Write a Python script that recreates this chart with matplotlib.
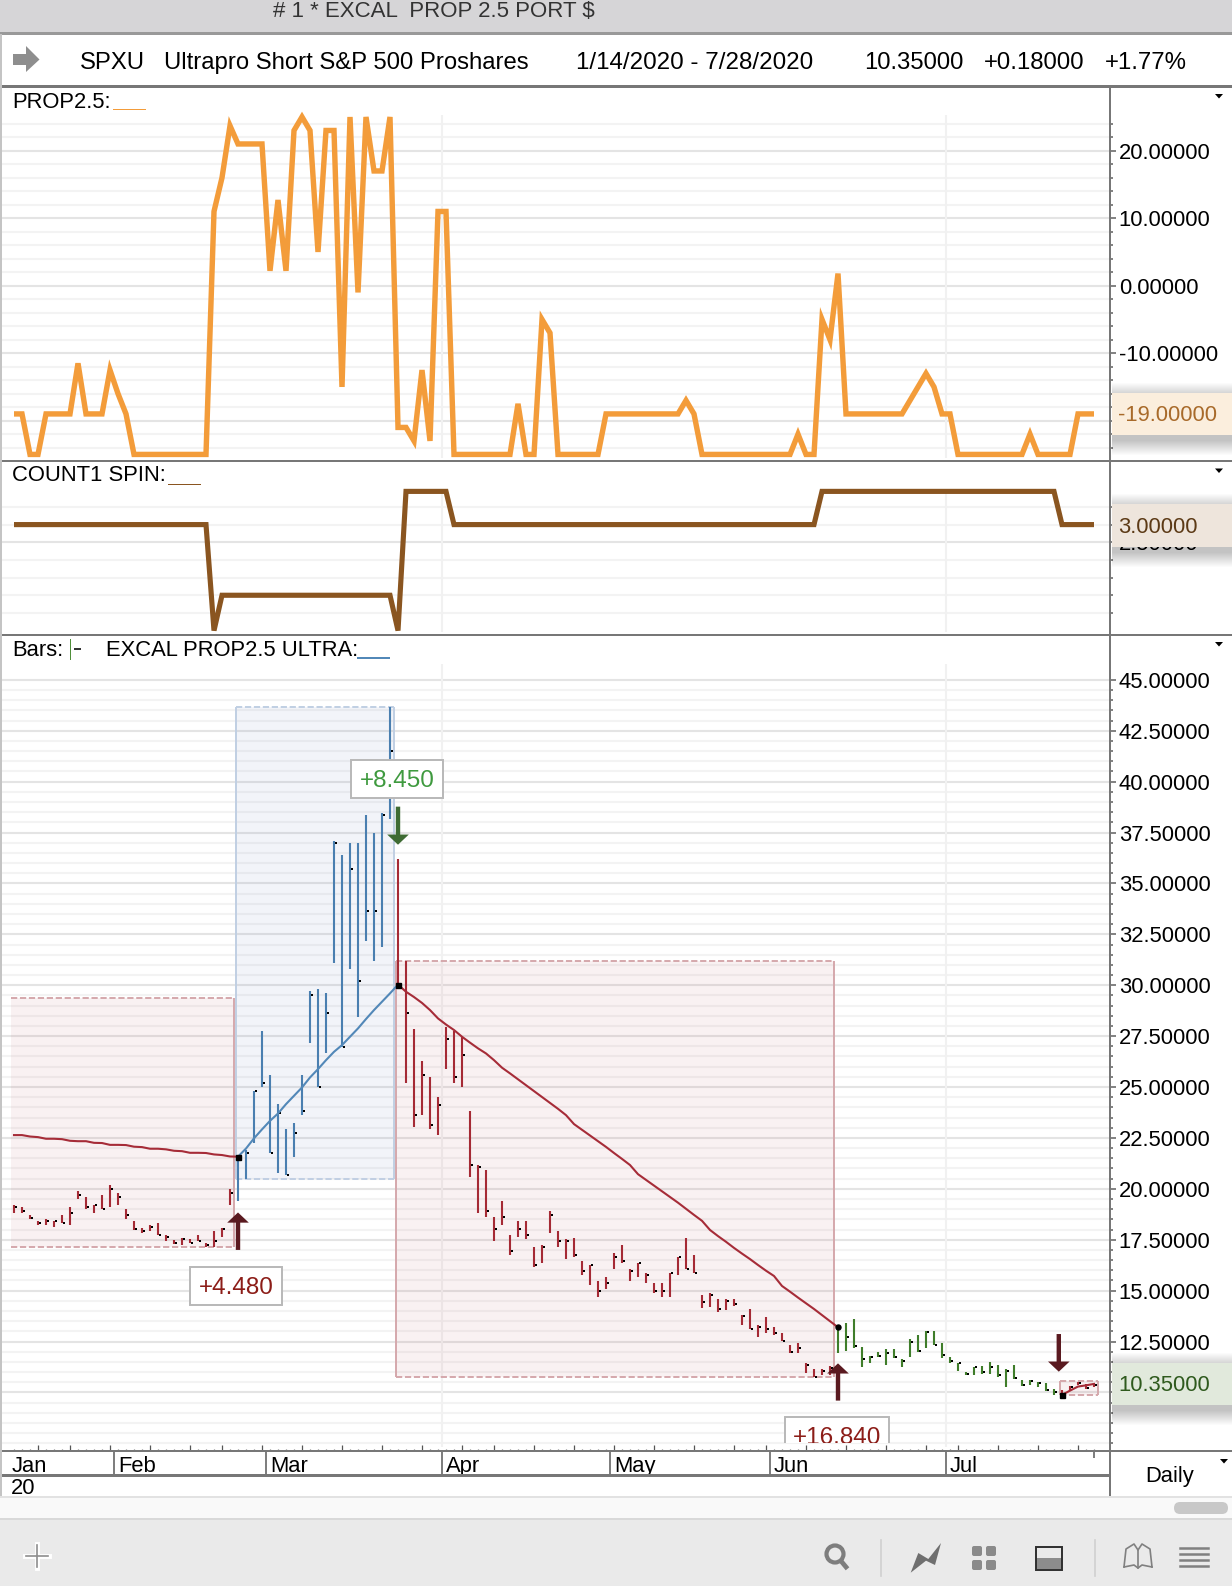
import matplotlib
matplotlib.use("Agg")
import matplotlib.pyplot as plt
from matplotlib.patches import Rectangle, Polygon, Circle, FancyBboxPatch
from matplotlib.transforms import Bbox

plt.rcParams["font.family"] = ["Liberation Sans", "DejaVu Sans"]
plt.rcParams["axes.unicode_minus"] = False

W, H = 1232, 1586

# -------------------------------
# Data
# -------------------------------
prop_values = [
    -19, -19, -25, -25, -19, -19, -19, -19, -11.5, -19, -19, -19, -12.5, -16, -19, -25,
    -25, -25, -25, -25, -25, -25, -25, -25, -25,
    11, 16, 23.7, 21, 21, 21, 21, 2.2, 12.7, 2.2, 23, 25, 23, 5, 23, 23, -15, 25, -1, 25, 17, 17, 25,
    -21, -21, -23, -12.5, -23, 11, 11, -25,
    -25, -25, -25, -25, -25, -25, -25,
    -17.5, -25, -25, -5, -7, -25, -25, -25, -25, -25, -25,
    -19, -19, -19, -19, -19, -19, -19, -19, -19, -19,
    -17, -19, -25, -25, -25, -25, -25, -25, -25, -25, -25, -25, -25, -25,
    -22, -25, -25, -5, -8, 1.8,
    -19, -19, -19, -19, -19, -19, -19, -19,
    -17, -15, -13, -15, -19, -19,
    -25, -25, -25, -25, -25, -25, -25, -25, -25,
    -22, -25, -25, -25, -25, -25, -19, -19, -19,
]

count_values = [
    3, 3, 3, 3, 3, 3, 3, 3, 3, 3, 3, 3, 3, 3, 3, 3, 3, 3, 3, 3, 3, 3, 3, 3, 3,
    0, 1, 1, 1, 1, 1, 1, 1, 1, 1, 1, 1, 1, 1, 1, 1, 1, 1, 1, 1, 1, 1, 1,
    0, 3.94, 3.94, 3.94, 3.94, 3.94, 3.94,
    3, 3, 3, 3, 3, 3, 3, 3, 3, 3, 3, 3, 3, 3, 3, 3, 3, 3, 3, 3, 3, 3, 3,
    3, 3, 3, 3, 3, 3, 3, 3, 3, 3, 3, 3, 3, 3, 3, 3, 3, 3, 3, 3, 3, 3, 3,
    3.94, 3.94, 3.94, 3.94, 3.94, 3.94, 3.94, 3.94, 3.94, 3.94, 3.94, 3.94, 3.94, 3.94, 3.94,
    3.94, 3.94, 3.94, 3.94, 3.94, 3.94, 3.94, 3.94, 3.94, 3.94, 3.94, 3.94, 3.94, 3.94, 3.94,
    3, 3, 3, 3, 3,
]

bar_high = [
    19.20, 19.09, 18.71, 18.43, 18.50, 18.43, 18.71, 19.09, 19.89, 19.61, 19.20, 19.69, 20.18, 19.81,
    19.00, 18.43, 18.10, 18.22, 18.33, 17.71, 17.51, 17.61, 17.55, 17.73, 17.32, 17.91, 18.10, 19.99,
    21.57, 21.90, 24.82, 27.75, 25.59, 24.19, 22.92, 23.21, 25.59, 29.70, 29.80, 29.60, 37.07, 36.38,
    36.97, 36.97, 38.34, 37.46, 38.44, 43.65, 36.18, 31.17, 27.83, 26.26, 25.47, 24.49, 27.93, 27.77,
    27.47, 23.80, 21.15, 20.95, 18.60, 19.38, 17.71, 18.40, 18.40, 17.12, 17.22, 18.89, 17.91, 17.52,
    17.61, 16.44, 16.27, 15.45, 15.65, 16.83, 17.22, 16.04, 16.37, 15.85, 15.36, 15.36, 15.88, 16.66,
    17.61, 16.73, 14.77, 14.87, 14.58, 14.58, 14.58, 13.79, 14.08, 13.30, 13.69, 13.20, 12.91, 12.33,
    12.41, 11.43, 11.14, 11.14, 11.30, 13.20, 13.40, 13.59, 12.22, 11.79, 12.00, 12.12, 12.12, 11.63,
    12.61, 12.82, 13.02, 13.02, 12.41, 11.73, 11.47, 11.02, 11.27, 11.30, 11.51, 11.35, 11.14, 11.33,
    10.61, 10.61, 10.53, 10.45, 10.16, 10.12, 10.32, 10.53, 10.42, 10.48,
]
bar_low = [
    18.79, 18.79, 18.51, 18.22, 18.22, 18.14, 18.30, 18.22, 19.50, 19.00, 18.83, 19.00, 19.12, 19.20,
    18.51, 18.00, 17.84, 17.94, 17.71, 17.45, 17.29, 17.25, 17.32, 17.42, 17.15, 17.15, 17.65, 19.20,
    19.41, 20.49, 22.26, 25.01, 21.77, 20.79, 20.67, 21.58, 23.64, 27.17, 25.01, 26.68, 31.11, 26.95,
    30.81, 28.45, 32.19, 31.20, 31.89, 38.18, 30.00, 25.21, 23.05, 23.64, 22.95, 22.66, 25.90, 25.21,
    25.01, 20.59, 18.83, 18.63, 17.45, 18.24, 16.76, 17.65, 17.55, 16.17, 16.37, 17.84, 17.16, 16.57,
    16.66, 15.78, 15.29, 14.70, 15.09, 16.08, 16.37, 15.49, 15.68, 15.39, 14.90, 14.70, 14.70, 15.78,
    16.08, 15.88, 14.13, 14.22, 13.97, 14.05, 14.27, 13.32, 13.12, 12.74, 12.94, 12.84, 12.51, 11.96,
    11.96, 10.97, 10.74, 10.86, 10.86, 11.92, 12.05, 12.17, 11.27, 11.47, 11.73, 11.37, 11.68, 11.27,
    11.76, 12.00, 12.17, 12.33, 11.68, 11.47, 11.07, 10.86, 10.86, 10.91, 10.89, 10.74, 10.29, 10.65,
    10.32, 10.37, 10.29, 10.09, 9.88, 9.76, 10.09, 10.37, 10.16, 10.25,
]
bar_close = [
    19.12, 18.92, 18.55, 18.33, 18.43, 18.40, 18.33, 18.83, 19.71, 19.09, 19.20, 19.00, 19.99, 19.61,
    18.71, 18.04, 17.94, 18.14, 17.74, 17.65, 17.35, 17.55, 17.35, 17.45, 17.25, 17.45, 18.04, 19.81,
    21.50, 21.77, 24.82, 25.21, 21.77, 23.74, 20.69, 22.75, 23.83, 29.53, 25.01, 28.65, 37.00, 26.95,
    35.72, 30.22, 33.66, 33.66, 38.36, 41.52, 30.00, 28.65, 23.64, 25.60, 23.13, 24.13, 27.37, 25.51,
    26.59, 21.18, 21.09, 18.92, 18.04, 18.63, 16.96, 18.04, 17.75, 16.27, 17.16, 18.73, 17.45, 17.45,
    16.76, 15.98, 16.27, 15.00, 15.39, 16.66, 16.47, 15.98, 16.37, 15.78, 15.00, 15.00, 15.88, 16.66,
    16.08, 15.88, 14.44, 14.79, 14.08, 14.51, 14.35, 13.76, 13.12, 13.23, 13.14, 12.91, 12.55, 12.00,
    12.17, 11.33, 10.78, 11.07, 11.19, 13.20, 12.71, 12.28, 11.65, 11.76, 11.81, 11.96, 11.76, 11.56,
    12.50, 12.05, 12.97, 12.33, 11.84, 11.56, 11.43, 10.91, 11.24, 11.02, 11.24, 10.86, 11.07, 10.71,
    10.37, 10.56, 10.45, 10.12, 10.04, 9.88, 10.29, 10.48, 10.20, 10.35,
]

# bar colour runs: first bar index, last bar index, colour
bar_runs = [(0, 27, "#a52a35"), (28, 47, "#4a7fb0"), (48, 102, "#a52a35"), (103, 130, "#3f7d2a"), (131, 135, "#a52a35")]

# EXCAL PROP2.5 ULTRA line, one piece per trade
ultra_a = [22.64, 22.64, 22.57, 22.54, 22.46, 22.46, 22.44, 22.36, 22.34, 22.34, 22.26, 22.25, 22.16, 22.16, 22.15,
           22.07, 22.05, 21.97, 21.97, 21.94, 21.87, 21.85, 21.77, 21.77, 21.76, 21.69, 21.66, 21.59, 21.58]
ultra_b = [21.58, 21.98, 22.48, 22.92, 23.34, 23.70, 24.16, 24.57, 24.98, 25.47, 25.88, 26.32, 26.73, 27.06, 27.47,
           27.88, 28.34, 28.78, 29.19, 29.60, 30.03]
ultra_c = [30.03, 29.68, 29.42, 29.13, 28.78, 28.37, 28.07, 27.80, 27.47, 27.18, 26.90, 26.65, 26.32, 25.95, 25.67,
           25.38, 25.09, 24.80, 24.51, 24.22, 23.93, 23.62, 23.18, 22.90, 22.62, 22.34, 22.06, 21.76, 21.47, 21.17,
           20.72, 20.44, 20.16, 19.88, 19.60, 19.32, 19.02, 18.72, 18.43, 17.98, 17.68, 17.40, 17.10, 16.82, 16.55,
           16.26, 15.98, 15.72, 15.23, 14.95, 14.66, 14.38, 14.10, 13.80, 13.50, 13.20]
ultra_d = [9.88, 10.09, 10.29, 10.35, 10.42]
ultra_starts = [0, 28, 48, 131]
ultra_colors = ["#a62c38", "#5288b8", "#a62c38", "#a62c38"]

# black entry and exit points
dot_bar = [28, 48, 131]
dot_value = [21.58, 30.03, 9.88]
round_dot_bar = [103]
round_dot_value = [13.20]

# trade boxes: first x, last x, top, bottom
box_x0 = [-0.4, 27.7, 47.75, 130.7]
box_x1 = [27.5, 47.5, 102.55, 135.5]
box_top = [29.37, 43.68, 31.2, 10.58]
box_bottom = [17.15, 20.5, 10.77, 9.88]
box_fill = ["#b03040", "#3f66a8", "#b03040", "#b03040"]
box_edge = ["#d5a8ac", "#c0cfe3", "#d5a8ac", "#d5a8ac"]

# signal arrows: bar, tail, tip
arrow_bar = [28, 48, 103, 130.6]
arrow_tail = [17.0, 38.77, 9.60, 12.87]
arrow_tip = [18.84, 36.9, 11.43, 11.02]
arrow_color = ["#5a1a20", "#3e6b33", "#5a1a20", "#5a1a20"]

# trade result labels
label_text = ["+4.480", "+8.450", "+16.840"]
label_bar = [27.8, 47.9, 102.9]
label_value = [15.24, 40.13, 7.87]
label_width = [11.5, 11.5, 13.0]
label_height = [1.87, 1.87, 1.87]
label_color = ["#8c1d18", "#3f9a3f", "#8c1d18"]

month_names = ["Jan", "Feb", "Mar", "Apr", "May", "Jun", "Jul"]
month_pos = [-0.3, 12.5, 31.5, 53.5, 74.5, 94.5, 116.5]
week_ticks = [3, 7, 12, 17, 22, 26, 31, 36, 41, 46, 51, 56, 60, 65, 70, 75, 80, 85, 90, 94, 99, 104, 109, 114, 118, 123, 128, 133]
grid_months = [53.5, 116.5]

prop_ticks = [20, 10, 0, -10, -20]
prop_tick_text = ["20.00000", "10.00000", "0.00000", "-10.00000", ""]
count_ticks = [2.5]
count_tick_text = ["2.50000"]
price_ticks = [45, 42.5, 40, 37.5, 35, 32.5, 30, 27.5, 25, 22.5, 20, 17.5, 15, 12.5, 10]
price_tick_text = ["45.00000", "42.50000", "40.00000", "37.50000", "35.00000", "32.50000", "30.00000", "27.50000",
                   "25.00000", "22.50000", "20.00000", "17.50000", "15.00000", "12.50000", ""]


def px_axes(fig, x0, y0, x1, y1, **kw):
    return fig.add_axes([x0 / W, 1 - y1 / H, (x1 - x0) / W, (y1 - y0) / H], **kw)


def style_panel(ax, major, major_text, minor, lims):
    ax.set_xlim(-1.5, 137)
    ax.set_ylim(*lims)
    ax.yaxis.tick_right()
    ax.set_yticks(major)
    ax.set_yticklabels(major_text, fontsize=15.8)
    ax.set_yticks(minor, minor=True)
    ax.tick_params(axis="y", which="major", length=4, width=1.3, color="#777777", pad=2.3)
    ax.tick_params(axis="y", which="minor", length=1.8, width=1.3, color="#777777")
    ax.grid(True, which="major", axis="y", color="#e4e4e4", lw=1.5)
    ax.grid(True, which="minor", axis="y", color="#f3f3f3", lw=1.5)
    ax.set_axisbelow(True)
    ax.set_xticks([])
    for side in ax.spines:
        ax.spines[side].set_visible(False)


fig = plt.figure(figsize=(W / 100, H / 100), dpi=100, facecolor="white")
xs = list(range(len(bar_close)))

# -------------------------------
# PROP2.5 panel
# -------------------------------
ax_prop = px_axes(fig, 2, 87, 1110, 460.7)
style_panel(ax_prop, prop_ticks, prop_tick_text, list(range(-24, 26, 2)), (-25.93, 29.44))
ax_prop.vlines(grid_months, -25.6, 25.3, color="#f1f1f1", lw=1.5, zorder=1)
ax_prop.plot(xs, prop_values, color="#f39c3a", lw=3.9, solid_joinstyle="miter", solid_capstyle="butt", zorder=3)

# -------------------------------
# COUNT1 SPIN panel
# -------------------------------
ax_count = px_axes(fig, 2, 461, 1110, 635)
style_panel(ax_count, count_ticks, count_tick_text, [0.5, 1, 1.5, 2, 3, 3.5], (-0.125, 4.8))
ax_count.vlines(grid_months, -0.05, 4, color="#f1f1f1", lw=1.5, zorder=1)
ax_count.plot(xs, count_values, color="#8a5520", lw=3.7, solid_joinstyle="miter", solid_capstyle="butt", zorder=3)

# -------------------------------
# Price panel
# -------------------------------
ax_price = px_axes(fig, 2, 635, 1110, 1450.7)
price_minor = [7.5 + 0.5 * k for k in range(76)]
style_panel(ax_price, price_ticks, price_tick_text, price_minor, (7.14, 47.2))
ax_price.vlines(grid_months, 7.3, 45.8, color="#f1f1f1", lw=1.5, zorder=1)

for x0, x1, top, bottom, fill, edge in zip(box_x0, box_x1, box_top, box_bottom, box_fill, box_edge):
    ax_price.add_patch(Rectangle((x0, bottom), x1 - x0, top - bottom, facecolor=fill, alpha=0.065, lw=0, zorder=2))
    ax_price.hlines([top, bottom], x0, x1, color=edge, lw=1.4, linestyles=(0, (3.2, 1.4)), zorder=2.5)
    ax_price.vlines(x1, bottom, top, color=edge, lw=1.4, zorder=2.5)
    if x0 > 0:
        ax_price.vlines(x0, bottom, top, color=edge, lw=1.4, zorder=2.5)

for first, last, color in bar_runs:
    rng = xs[first:last + 1]
    ax_price.vlines(rng, bar_low[first:last + 1], bar_high[first:last + 1], color=color, lw=1.5, zorder=4)
ax_price.plot([x + 0.28 for x in xs], bar_close, ls="", marker="s", ms=1.5, mfc="black", mec="black", mew=0, zorder=5)

for start, vals, color in zip(ultra_starts, [ultra_a, ultra_b, ultra_c, ultra_d], ultra_colors):
    ax_price.plot(range(start, start + len(vals)), vals, color=color, lw=1.5, zorder=6)
ax_price.plot(dot_bar, dot_value, ls="", marker="s", ms=3.6, color="black", zorder=7)
ax_price.plot(round_dot_bar, round_dot_value, ls="", marker="o", ms=3.6, color="black", zorder=7)

for bar, tail, tip, color in zip(arrow_bar, arrow_tail, arrow_tip, arrow_color):
    ax_price.arrow(bar, tail, 0, tip - tail, width=0.55, head_width=2.7, head_length=0.5,
                   length_includes_head=True, color=color, lw=0, zorder=8)

# result labels are clipped by the scale strip at the bottom
clip = Bbox([[0, H - 1443], [W, H - 640]])
for text, bar, value, bw, bh, color in zip(label_text, label_bar, label_value, label_width, label_height, label_color):
    box = Rectangle((bar - bw / 2, value - bh / 2), bw, bh, fc="white", ec="#b8b8b8", lw=1.4, zorder=9)
    ax_price.add_patch(box)
    box.set_clip_box(clip)
    t = ax_price.text(bar, value, text, color=color, fontsize=17.5, ha="center", va="center_baseline", zorder=10)
    t.set_clip_on(True)
    t.set_clip_box(clip)

ax_price.set_xticks(week_ticks)
ax_price.set_xticks(xs, minor=True)
ax_price.xaxis.tick_bottom()
ax_price.tick_params(axis="x", which="major", direction="in", length=4.2, width=0.9, color="#555555", labelbottom=False)
ax_price.tick_params(axis="x", which="minor", direction="in", length=1.6, width=0.9, color="#777777")

# -------------------------------
# Month strip
# -------------------------------
ax_date = px_axes(fig, 2, 1451, 1110, 1475)
ax_date.set_xlim(-1.5, 137)
ax_date.set_ylim(0, 1)
ax_date.set_xticks([])
ax_date.set_yticks([])
for side in ax_date.spines:
    ax_date.spines[side].set_visible(False)
ax_date.vlines(month_pos[1:], 0, 1, color="#666666", lw=1.2)
ax_date.vlines(135, 0.72, 1, color="#666666", lw=1.2)
for pos, name in zip(month_pos, month_names):
    ax_date.text(pos + 0.5 if pos > 0 else pos, 0.44, name, fontsize=15.8, va="center_baseline", ha="left", color="black")

# -------------------------------
# Window chrome
# -------------------------------
ui = fig.add_axes([0, 0, 1, 1], zorder=10)
ui.set_xlim(0, W)
ui.set_ylim(H, 0)
ui.axis("off")
ui.patch.set_alpha(0)


def rect(x0, y0, x1, y1, color, **kw):
    ui.add_patch(Rectangle((x0, y0), x1 - x0, y1 - y0, facecolor=color, lw=0, **kw))


rect(0, 0, W, 33, "#d6d5d7")
rect(0, 32, W, 34.5, "#999999")
rect(0, 85, W, 87.5, "#777777")
rect(0, 460, W, 462, "#777777")
rect(0, 634, W, 636, "#777777")
rect(0, 1450, W, 1452, "#777777")
rect(2, 1474, 1110, 1476.5, "#777777")
rect(1109.2, 87, 1111, 1496, "#777777")
rect(0, 34, 1.5, 1497, "#c4c4c4")
rect(0, 1496, W, 1519, "#f9f9f9")
rect(0, 1495.5, W, 1498, "#e2e2e2")
rect(0, 1517.5, W, 1520, "#d9d9d9")
rect(0, 1520, W, H, "#eaeaea")
ui.add_patch(FancyBboxPatch((1174, 1502), 54, 12, boxstyle="round,pad=0,rounding_size=6", fc="#c8c8c8", lw=0))

ui.text(434, 11.5, "# 1 * EXCAL  PROP 2.5 PORT $", fontsize=16, color="#333333", ha="center", va="center")
ui.add_patch(Polygon([(13, 54), (26, 54), (26, 46), (39.5, 59.5), (26, 72), (26, 65), (13, 65)], fc="#8e8e8e", lw=0))
header_y = 63
ui.text(80, header_y, "SPXU", fontsize=17.2, va="center")
ui.text(164, header_y, "Ultrapro Short S&P 500 Proshares", fontsize=17.2, va="center")
ui.text(576, header_y, "1/14/2020 - 7/28/2020", fontsize=17.4, va="center")
ui.text(864, header_y, "10.35000", fontsize=17.2, va="center")
ui.text(984, header_y, "+0.18000", fontsize=17.3, va="center")
ui.text(1105, header_y, "+1.77%", fontsize=17.3, va="center")

ui.text(12.5, 102, "PROP2.5:", fontsize=15.8, va="center")
rect(113, 108.5, 146, 110, "#f39c3a")
ui.text(12.5, 475.5, "COUNT1 SPIN:", fontsize=15.8, va="center")
rect(168, 483.5, 201, 485, "#8a5520")
ui.text(12.5, 650, "Bars:", fontsize=15.8, va="center")
rect(69.5, 639, 71, 660, "#4f8f3a")
rect(74, 648, 81, 649.5, "#333333")
ui.text(106, 650, "EXCAL PROP2.5 ULTRA:", fontsize=15.8, va="center")
rect(357, 657, 390, 658.5, "#5288b8")

for tri_y in [96, 470.5, 644]:
    ui.add_patch(Polygon([(1215, tri_y - 2), (1223, tri_y - 2), (1219, tri_y + 2.5)], fc="black", lw=0))
ui.add_patch(Polygon([(1220, 1459), (1228, 1459), (1224, 1463.5)], fc="black", lw=0))


def value_box(y0, y1, face, text, color):
    for k in range(1, 16):
        ui.add_patch(Rectangle((1112, y0 - k + 5), W - 1112, y1 - y0 + 2 * k, facecolor="black", alpha=0.015, lw=0))
    rect(1112, y0, W, y1, face)
    ui.text(1118, (y0 + y1) / 2 + 1.8, text, color=color, fontsize=15.8, va="center")


value_box(393, 435, "#fbeedd", "-19.00000", "#a86a2a")
value_box(504, 546.5, "#eee5dc", "3.00000", "#5c3a16")
value_box(1363, 1405, "#e1e9dc", "10.35000", "#2f5a1e")

ui.text(11, 1488.5, "20", fontsize=15.8, va="center")
ui.text(1145, 1476.5, "Daily", fontsize=15.8, va="center")

# toolbar icons
ui.plot([37, 37], [1544, 1568], color="#ffffff", lw=3.5)
ui.plot([25, 49], [1556, 1556], color="#ffffff", lw=3.5)
ui.plot([37, 37], [1545, 1567], color="#8d8d8d", lw=1.2)
ui.plot([26, 48], [1556, 1556], color="#8d8d8d", lw=1.2)
ui.add_patch(Circle((835, 1554), 8.5, fc="none", ec="#7e7e7e", lw=3))
ui.plot([841, 846], [1561, 1567], color="#7e7e7e", lw=3.4)
ui.plot([881, 881], [1540, 1576], color="#d0d0d0", lw=1.2)
ui.add_patch(Polygon([(910.7, 1572.7), (918.3, 1553), (928.3, 1559), (941, 1543), (935, 1565), (926, 1560.7)], fc="#6f6f6f", lw=0))
for sq_x, sq_y in [(972, 1546), (986, 1546), (972, 1560), (986, 1560)]:
    ui.add_patch(FancyBboxPatch((sq_x, sq_y), 10, 10, boxstyle="round,pad=0,rounding_size=2", fc="#8a8a8a", lw=0))
rect(1036, 1558, 1062, 1569, "#8c8c8c")
ui.add_patch(Rectangle((1036, 1546.5), 26, 23, fc="none", ec="#2e2e2e", lw=1.4))
ui.plot([1095, 1095], [1540, 1576], color="#d0d0d0", lw=1.2)
ui.plot([1124, 1126, 1134, 1138, 1142, 1150, 1152], [1567, 1549, 1544, 1550, 1544, 1549, 1567], color="#808080", lw=1.2)
ui.plot([1124, 1134, 1138, 1142, 1152], [1567, 1565, 1568, 1565, 1567], color="#808080", lw=1.2)
ui.plot([1138, 1138], [1550, 1568], color="#808080", lw=1.2)
for line_y in [1548, 1554, 1560, 1566]:
    ui.plot([1180, 1208], [line_y, line_y], color="#808080", lw=1.8)

fig.savefig("out.png", dpi=100, facecolor="white")
